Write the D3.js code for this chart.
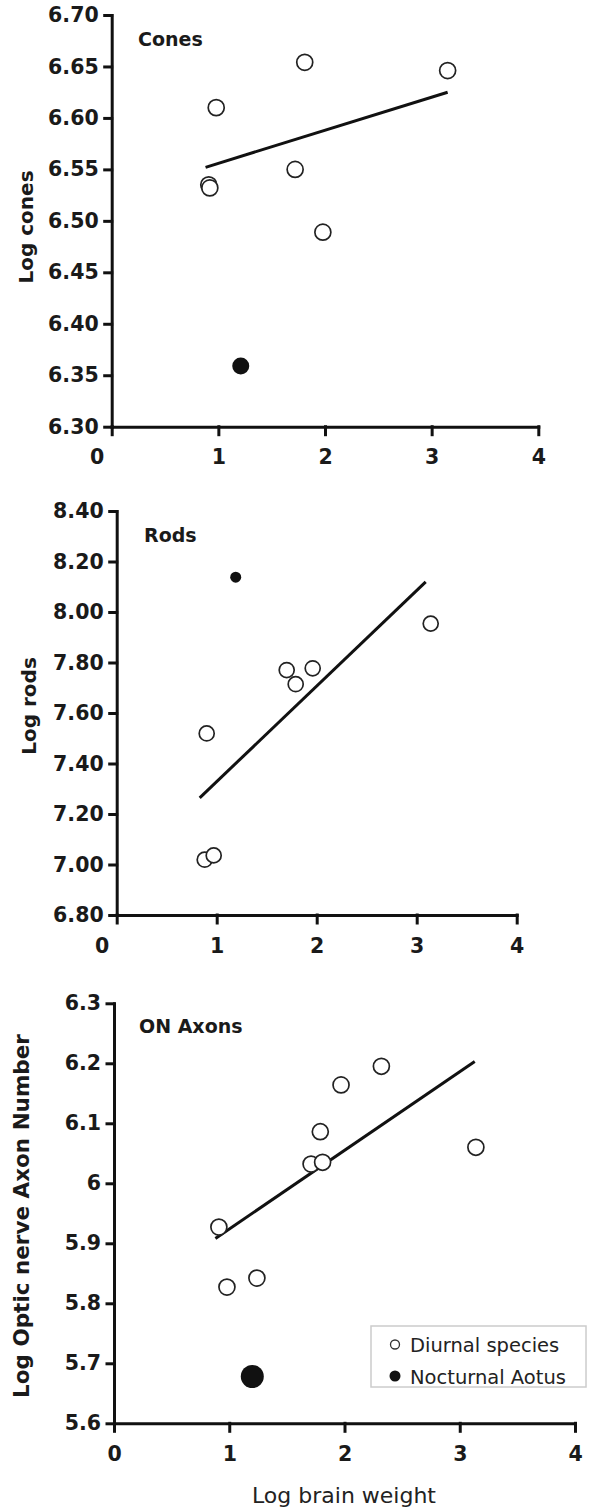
<!DOCTYPE html>
<html>
<head>
<meta charset="utf-8">
<script src="https://cdn.jsdelivr.net/npm/d3@7"></script>
<style>
  body { margin: 0; background: #fff; }
  svg { display: block; }
</style>
</head>
<body>
<script>
// Primate retina vs brain size: three stacked scatter panels

const brainTicks = [0, 1, 2, 3, 4];

// Cones
const conesDiurnalX = [0.98, 1.81, 3.15, 1.72, 0.91, 0.92, 1.98];
const conesDiurnalY = [6.610, 6.654, 6.646, 6.550, 6.535, 6.532, 6.489];
const conesAotus = [1.21, 6.359];
const conesFitX = [0.88, 3.15];
const conesFitY = [6.552, 6.625];
const conesTicks = [6.30, 6.35, 6.40, 6.45, 6.50, 6.55, 6.60, 6.65, 6.70];

// Rods
const rodsDiurnalX = [3.14, 1.70, 1.96, 1.79, 0.90, 0.88, 0.97];
const rodsDiurnalY = [7.954, 7.770, 7.777, 7.714, 7.519, 7.019, 7.036];
const rodsAotus = [1.19, 8.138];
const rodsFitX = [0.83, 3.09];
const rodsFitY = [7.264, 8.119];
const rodsTicks = [6.80, 7.00, 7.20, 7.40, 7.60, 7.80, 8.00, 8.20, 8.40];

// Optic nerve axons
const axonsDiurnalX = [2.32, 1.97, 1.79, 3.14, 1.71, 1.81, 0.91, 1.24, 0.98];
const axonsDiurnalY = [6.195, 6.164, 6.086, 6.060, 6.032, 6.035, 5.927, 5.842, 5.827];
const axonsAotus = [1.20, 5.678];
const axonsFitX = [0.88, 3.13];
const axonsFitY = [5.908, 6.203];
const axonsTicks = [5.6, 5.7, 5.8, 5.9, 6.0, 6.1, 6.2, 6.3];

const legendLabels = ["Diurnal species", "Nocturnal Aotus"];

const width = 589, height = 1510;
const font = "'DejaVu Sans', Verdana, sans-serif";

const svg = d3.select("body").append("svg")
    .attr("width", width)
    .attr("height", height)
    .style("font-family", font);

// layout of each panel (pixels), data comes from the arrays above
const panels = [
  {title: "Cones", yTitle: "Log cones", xs: conesDiurnalX, ys: conesDiurnalY,
   aotus: conesAotus, fitX: conesFitX, fitY: conesFitY, yTicks: conesTicks,
   fmt: d3.format(".2f"), left: 111.7, right: 538.3, top: 15, bottom: 426.7,
   zeroShift: -15, titleX: 138, titleY: 46, yTitleX: 33, yTitleY: 227, yTitleSize: 20,
   rOpen: 8, rFill: 8.5},
  {title: "Rods", yTitle: "Log rods", xs: rodsDiurnalX, ys: rodsDiurnalY,
   aotus: rodsAotus, fitX: rodsFitX, fitY: rodsFitY, yTicks: rodsTicks,
   fmt: d3.format(".2f"), left: 116.7, right: 516.7, top: 511, bottom: 915,
   zeroShift: -15, titleX: 144, titleY: 542, yTitleX: 36, yTitleY: 706, yTitleSize: 20,
   rOpen: 7.5, rFill: 5.5},
  {title: "ON Axons", yTitle: "Log Optic nerve Axon Number", xs: axonsDiurnalX, ys: axonsDiurnalY,
   aotus: axonsAotus, fitX: axonsFitX, fitY: axonsFitY, yTicks: axonsTicks,
   fmt: d => d3.format(".1f")(d).replace(/\.0$/, ""), left: 114, right: 575, top: 1003.3, bottom: 1423.3,
   zeroShift: 0, titleX: 139, titleY: 1033, yTitleX: 29, yTitleY: 1216, yTitleSize: 21.5,
   rOpen: 8, rFill: 11.5}
];

panels.forEach(p => {
  const x = d3.scaleLinear().domain([0, 4]).range([p.left, p.right]);
  const y = d3.scaleLinear().domain(d3.extent(p.yTicks)).range([p.bottom, p.top]);
  const g = svg.append("g");

  // x axis
  const xa = g.append("g")
      .attr("transform", "translate(0," + p.bottom + ")")
      .call(d3.axisBottom(x).tickValues(brainTicks).tickFormat(d3.format("d"))
        .tickSize(8).tickSizeOuter(0).tickPadding(15));
  xa.selectAll("text").filter(d => d === 0).attr("dx", p.zeroShift);

  // y axis
  g.append("g")
      .attr("transform", "translate(" + p.left + ",0)")
      .call(d3.axisLeft(y).tickValues(p.yTicks).tickFormat(p.fmt)
        .tickSize(7).tickSizeOuter(0).tickPadding(6));

  g.selectAll(".domain, .tick line")
      .attr("stroke", "#111")
      .attr("stroke-width", 3)
      .attr("stroke-linecap", "square");
  g.selectAll(".tick text")
      .attr("fill", "#1a1a1a")
      .style("font-family", font)
      .style("font-size", "20.5px")
      .style("font-weight", "bold");

  // panel label
  g.append("text")
      .attr("x", p.titleX).attr("y", p.titleY)
      .attr("font-size", 19).attr("font-weight", "bold").attr("fill", "#1a1a1a")
      .text(p.title);

  // y title
  g.append("text")
      .attr("transform", "translate(" + p.yTitleX + "," + p.yTitleY + ") rotate(-90)")
      .attr("text-anchor", "middle")
      .attr("font-size", p.yTitleSize).attr("font-weight", "bold").attr("fill", "#1a1a1a")
      .text(p.yTitle);

  // regression line
  g.append("line")
      .attr("x1", x(p.fitX[0])).attr("y1", y(p.fitY[0]))
      .attr("x2", x(p.fitX[1])).attr("y2", y(p.fitY[1]))
      .attr("stroke", "#111").attr("stroke-width", 3);

  // diurnal species
  g.selectAll("circle.open")
    .data(d3.zip(p.xs, p.ys))
    .join("circle")
      .attr("class", "open")
      .attr("cx", d => x(d[0])).attr("cy", d => y(d[1]))
      .attr("r", p.rOpen)
      .attr("fill", "#fff").attr("stroke", "#222").attr("stroke-width", 1.7);

  // nocturnal Aotus
  g.append("circle")
      .attr("cx", x(p.aotus[0])).attr("cy", y(p.aotus[1]))
      .attr("r", p.rFill)
      .attr("fill", "#111");
});

// x axis title
svg.append("text")
    .attr("x", 344).attr("y", 1503)
    .attr("text-anchor", "middle")
    .attr("font-size", 22).attr("fill", "#222")
    .text("Log brain weight");

// legend
const lg = svg.append("g");
lg.append("rect")
    .attr("x", 371).attr("y", 1326).attr("width", 215).attr("height", 61)
    .attr("fill", "#fff").attr("stroke", "#ccc").attr("stroke-width", 1.5);
const items = lg.selectAll("g.item")
  .data(legendLabels)
  .join("g")
    .attr("class", "item")
    .attr("transform", (d, i) => "translate(395," + (1344.5 + i * 31.5) + ")");
items.append("circle")
    .attr("r", (d, i) => i === 0 ? 4.5 : 5.5)
    .attr("fill", (d, i) => i === 0 ? "#fff" : "#111")
    .attr("stroke", (d, i) => i === 0 ? "#333" : "none")
    .attr("stroke-width", 1.3);
items.append("text")
    .attr("x", 15).attr("y", 7.5)
    .attr("font-size", 19.5).attr("fill", "#222")
    .text(d => d);
</script>
</body>
</html>
